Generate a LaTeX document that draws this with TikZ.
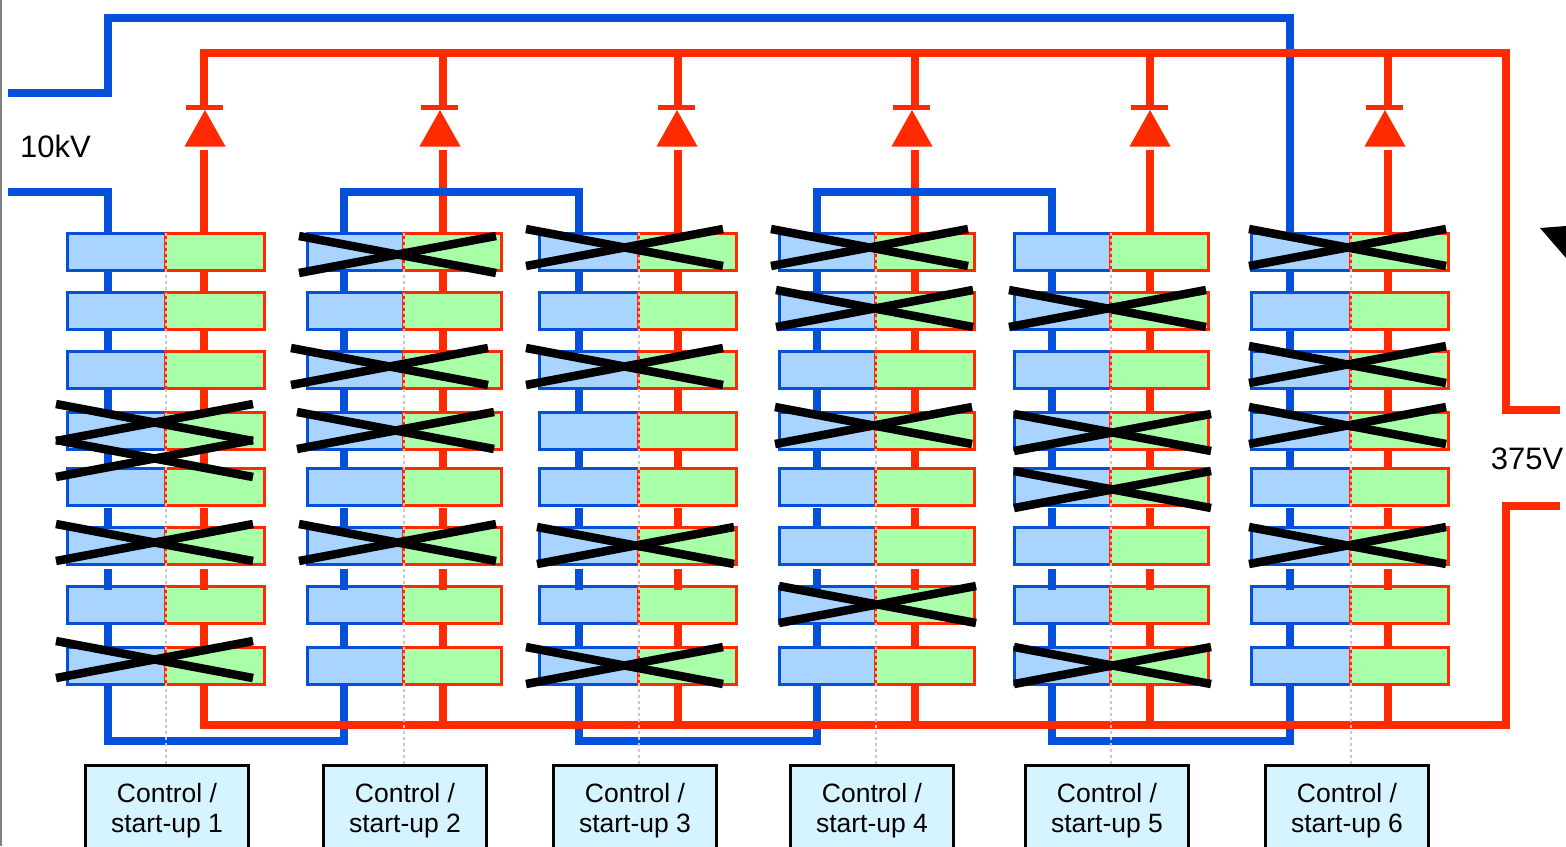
\documentclass[tikz,border=0pt]{standalone}
\usepackage{fontspec}
\setmainfont{Liberation Sans}
\usetikzlibrary{backgrounds}
\definecolor{busBlue}{HTML}{0450D8}
\definecolor{busRed}{HTML}{FF2A00}
\definecolor{cellBlue}{HTML}{A8D4FF}
\definecolor{cellGreen}{HTML}{A8FFA8}
\definecolor{ctlFill}{HTML}{D6F4FF}
\definecolor{dotGray}{HTML}{C8C8C8}
\tikzset{
  stack diagram/.style={
    x=0.5pt,y=-0.5pt,
    every node/.style={inner sep=0pt, outer sep=0pt}
  },
  cell blue/.style={draw=busBlue, fill=cellBlue, line width=1.5pt,
    minimum height=18.5pt, anchor=east},
  cell green/.style={draw=busRed, fill=cellGreen, line width=1.5pt,
    minimum height=18.5pt, anchor=west},
  ctl box/.style={draw=black, fill=ctlFill, line width=1.4pt,
    minimum width=81.5pt, minimum height=45pt, align=center,
    font=\fontsize{13.25}{15}\selectfont},
  volt label/.style={font=\fontsize{15.5}{18}\selectfont},
  diode bar/.style={fill=busRed, minimum width=18.7pt, minimum height=2.75pt},
  wire blue/.style={draw=busBlue, line width=4pt},
  wire red/.style={draw=busRed, line width=4pt},
  dot line/.style={draw=dotGray, line width=1pt, dash pattern=on 1.5pt off 1.5pt},
  kill/.style={draw=black, line width=4.25pt}
}
\newcommand{\KillCell}[2]{%
  \draw[kill] (#1,#2) -- ++(197,37);
  \draw[kill] (#1,#2+37) -- ++(197,-37);
}
\begin{document}
\begin{tikzpicture}[stack diagram]
    \clip (0,0) rectangle (1566,846);
    \draw[gray,line width=1pt] (0.5,0) -- (0.5,846);
    % terminals and bus levels
    \coordinate (hvA) at (8,93);
    \coordinate (hvB) at (8,191.5);
    \coordinate (blueTop) at (0,18);
    \coordinate (blueBot) at (0,741);
    \coordinate (lvA) at (1560,410);
    \coordinate (lvB) at (1560,506);
    \coordinate (redTop) at (204,53);
    \coordinate (redBot) at (204,725);
    \coordinate (redEast) at (1506,53);
    \coordinate (redSouth) at (1506,725);
    % one stack of cells per column
    \foreach \c/\xl/\xm/\xr/\xb/\xw/\xd/\xk in {
      1/67/165/264/107.5/204/205/167,
      2/307/403/501/344/443/440/405,
      3/539/638/736/579/678/677/635,
      4/779/875/974/817/915/912/872,
      5/1014/1110/1208/1052/1150/1150/1107,
      6/1251/1350/1448/1290/1388/1385/1347
    } {
      \coordinate (wb\c) at (\xb,0);
      \coordinate (wr\c) at (\xw,0);
      \foreach \r/\y in {1/251.5,2/310.5,3/369.5,4/430.5,5/486.5,6/545.5,7/604.5,8/665.5} {
        \node[cell blue,minimum width={(\xm-\xl)*0.5pt}] (b\c-\r) at (\xm,\y) {};
        \node[cell green,minimum width={(\xr-\xm)*0.5pt}] (g\c-\r) at (\xm,\y) {};
      }
      \node[ctl box] (ctl\c) at (\xk,810.5) {Control /\\start-up \c};
      % diode
      \node[diode bar] (bar\c) at (\xd-0.5,107.7) {};
      \fill[busRed] (\xd,110) -- (\xd+20.5,146.5) -- (\xd-20.5,146.5) -- cycle;
      \coordinate (foot\c) at (\xw,150);
    }
    \begin{scope}[on background layer]
      \foreach \c in {1,...,6} {
        \draw[wire red] (foot\c) -- (wr\c |- g\c-1.north);
      }
      % medium voltage side
      \draw[wire blue] (hvA) -- (wb1 |- hvA) -- (wb1 |- blueTop) -- (wb6 |- blueTop) -- (wb6 |- b6-1.north);
      \draw[wire blue] (hvB) -- (wb1 |- hvB) -- (wb1 |- b1-1.north);
      \draw[wire blue] (wb2 |- b2-1.north) -- (wb2 |- hvB) -- (wb3 |- hvB) -- (wb3 |- b3-1.north);
      \draw[wire blue] (wb4 |- b4-1.north) -- (wb4 |- hvB) -- (wb5 |- hvB) -- (wb5 |- b5-1.north);
      \draw[wire blue] (wb1 |- b1-8.south) -- (wb1 |- blueBot) -- (wb2 |- blueBot) -- (wb2 |- b2-8.south);
      \draw[wire blue] (wb3 |- b3-8.south) -- (wb3 |- blueBot) -- (wb4 |- blueBot) -- (wb4 |- b4-8.south);
      \draw[wire blue] (wb5 |- b5-8.south) -- (wb5 |- blueBot) -- (wb6 |- blueBot) -- (wb6 |- b6-8.south);
      % low voltage side
      \draw[wire red] (wr1 |- bar1) -- (redTop) -- (redEast) -- (redEast |- lvA) -- (lvA);
      \draw[wire red] (wr1 |- g1-8.south) -- (redBot) -- (redSouth) -- (redSouth |- lvB) -- (lvB);
      \foreach \c in {2,...,6} {
        \draw[wire red] (wr\c |- redTop) -- (wr\c |- bar\c);
        \draw[wire red] (wr\c |- g\c-8.south) -- (wr\c |- redBot);
      }
    \end{scope}
    % links between cells, some stop short or run over the next box
    \foreach \c in {1,...,6} {
      \foreach \r/\n/\ga/\gb in {1/2/1/-1,2/3/1/-1,3/4/2/-1,4/5/1/2,5/6/2.5/2,6/7/5/4,7/8/2/-1} {
        \path (wb\c |- b\c-\n.north) ++(0,\gb) coordinate (endB);
        \path (wr\c |- g\c-\n.north) ++(0,\gb) coordinate (endR);
        \draw[wire blue] (wb\c |- b\c-\r.south) ++(0,\ga) -- (endB);
        \draw[wire red] (wr\c |- g\c-\r.south) ++(0,\ga) -- (endR);
      }
      \draw[dot line] ([xshift=.5pt]g\c-1.north west) -- ([xshift=.5pt]g\c-1.north west |- ctl\c.north);
    }
    \node[volt label] (hvLabel) at (55.5,146) {10kV};
    \node[volt label] (lvLabel) at (1527,459) {375V};
    \fill[black] (1540,228) -- (1566,226) -- (1566,258) -- cycle;
    % failed cells
    \foreach \kx/\ky in {
      56/404,56/440,56/524,56/641,
      299/236,291/348,297/412,299/524,
      526/229,526/348,537/527,526/647,
      771/229,776/290,775/407,779/586,
      1009/290,1014/414,1014/471,1014/647,
      1249/229,1249/346,1249/407,1249/527
    } {
      \KillCell{\kx}{\ky}
    }
\end{tikzpicture}
\end{document}
